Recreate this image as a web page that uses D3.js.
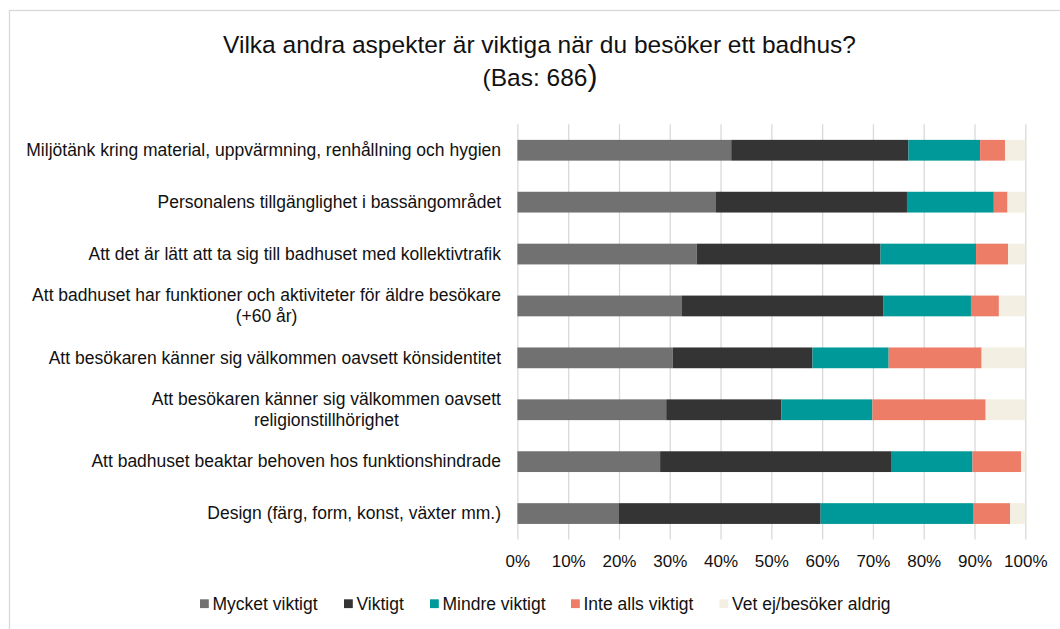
<!DOCTYPE html>
<html>
<head>
<meta charset="utf-8">
<script src="https://cdn.jsdelivr.net/npm/d3@7"></script>
<style>
  body { margin: 0; background: #fff; }
  svg { display: block; font-family: "Liberation Sans", Arial, sans-serif; }
</style>
</head>
<body>
<svg id="chart" width="1060" height="629"></svg>
<script>
const categories = [
    "Miljötänk kring material, uppvärmning, renhållning och hygien",
    "Personalens tillgänglighet i bassängområdet",
    "Att det är lätt att ta sig till badhuset med kollektivtrafik",
    "Att badhuset har funktioner och aktiviteter för äldre besökare\n(+60 år)",
    "Att besökaren känner sig välkommen oavsett könsidentitet",
    "Att besökaren känner sig välkommen oavsett\nreligionstillhörighet",
    "Att badhuset beaktar behoven hos funktionshindrade",
    "Design (färg, form, konst, växter mm.)"
];
const seriesNames = ["Mycket viktigt", "Viktigt", "Mindre viktigt", "Inte alls viktigt", "Vet ej/besöker aldrig"];
const colors = ["#717171", "#343434", "#009999", "#ed7d66", "#f3efe3"];
const mycketViktigt = [42.1, 39.1, 35.3, 32.4, 30.6, 29.3, 28.1, 20.0];
const viktigt       = [34.9, 37.6, 36.2, 39.7, 27.5, 22.7, 45.6, 39.7];
const mindreViktigt = [14.1, 17.1, 18.8, 17.2, 15.0, 17.9, 15.9, 30.0];
const inteAlls      = [4.9, 2.7, 6.3, 5.5, 18.3, 22.3, 9.6, 7.3];
const vetEj         = [4.0, 3.5, 3.4, 5.2, 8.6, 7.8, 0.8, 3.0];
const xTicks = [0, 10, 20, 30, 40, 50, 60, 70, 80, 90, 100];

const seriesValues = [mycketViktigt, viktigt, mindreViktigt, inteAlls, vetEj];
const rows = categories.map((c, i) => {
    const row = { cat: c };
    seriesNames.forEach((s, j) => { row[s] = seriesValues[j][i]; });
    return row;
});

const svg = d3.select("#chart");
const plotLeft = 517.4, plotRight = 1025.3, plotTop = 124.3, plotBottom = 539.5;

// outer frame
svg.append("rect")
    .attr("x", 9.5).attr("y", 10.5)
    .attr("width", 1100).attr("height", 700)
    .attr("fill", "none").attr("stroke", "#d9d9d9").attr("stroke-width", 1.3);

// title
svg.append("text")
    .attr("x", 539.5).attr("y", 53)
    .attr("text-anchor", "middle")
    .style("font-size", "24.5px").attr("fill", "#111")
    .text("Vilka andra aspekter är viktiga när du besöker ett badhus?");
const sub = svg.append("text")
    .attr("x", 540).attr("y", 85.5)
    .attr("text-anchor", "middle")
    .style("font-size", "24.5px").attr("fill", "#111");
sub.append("tspan").text("(Bas: 686");
sub.append("tspan").style("font-size", "30px").text(")");

const xScale = d3.scaleLinear().domain([0, 100]).range([plotLeft, plotRight]);
const yScale = d3.scaleBand().domain(categories).range([plotTop, plotBottom]).paddingInner(0.6).paddingOuter(0.3);

// gridlines
svg.append("g")
    .attr("transform", `translate(0, ${plotBottom})`)
    .call(d3.axisBottom(xScale).tickValues(xTicks).tickSize(-(plotBottom - plotTop)).tickFormat(""))
    .call(g => g.select(".domain").remove())
    .call(g => g.selectAll("line").attr("stroke", "#d9d9d9").attr("stroke-width", 1.3));

// bars
const stack = d3.stack().keys(seriesNames)(rows);
svg.append("g").selectAll("g")
    .data(stack)
    .join("g")
    .attr("fill", (d, i) => colors[i])
    .selectAll("rect")
    .data(d => d)
    .join("rect")
    .attr("x", d => xScale(d[0]))
    .attr("y", d => yScale(d.data.cat))
    .attr("width", d => xScale(d[1]) - xScale(d[0]))
    .attr("height", yScale.bandwidth());

// x axis labels
svg.append("g")
    .attr("transform", `translate(0, ${plotBottom})`)
    .call(d3.axisBottom(xScale).tickValues(xTicks).tickSize(0).tickPadding(15).tickFormat(d => d + "%"))
    .call(g => g.select(".domain").remove())
    .call(g => g.selectAll("text").style("font-size", "17px").attr("fill", "#111")
        .style("font-family", "'Liberation Sans', Arial, sans-serif"));

// category labels
const labelRight = 501;
categories.forEach(c => {
    const lines = c.split("\n");
    const cy = yScale(c) + yScale.bandwidth() / 2;
    const t = svg.append("text")
        .style("font-size", "17.5px").attr("fill", "#111");
    const lh = 21;
    const y0 = cy - (lines.length - 1) * lh / 2 + 5.8;
    const spans = lines.map((l, k) => t.append("tspan").attr("y", y0 + k * lh).text(l));
    if (lines.length === 1) {
        t.attr("text-anchor", "end");
        spans[0].attr("x", labelRight);
    } else {
        const w = d3.max(spans, s => s.node().getComputedTextLength());
        t.attr("text-anchor", "middle");
        spans.forEach(s => s.attr("x", labelRight - w / 2));
    }
});

// legend
const legendX = [200, 344, 430, 571, 719.5];
const legend = svg.append("g").selectAll("g")
    .data(seriesNames)
    .join("g")
    .attr("transform", (d, i) => `translate(${legendX[i]}, 603.7)`);
legend.append("rect")
    .attr("x", 0).attr("y", -4.4).attr("width", 8.8).attr("height", 8.8)
    .attr("fill", (d, i) => colors[i]);
legend.append("text")
    .attr("x", 12.5).attr("y", 5.8)
    .style("font-size", "17.5px").attr("fill", "#111")
    .text(d => d);
</script>
</body>
</html>
